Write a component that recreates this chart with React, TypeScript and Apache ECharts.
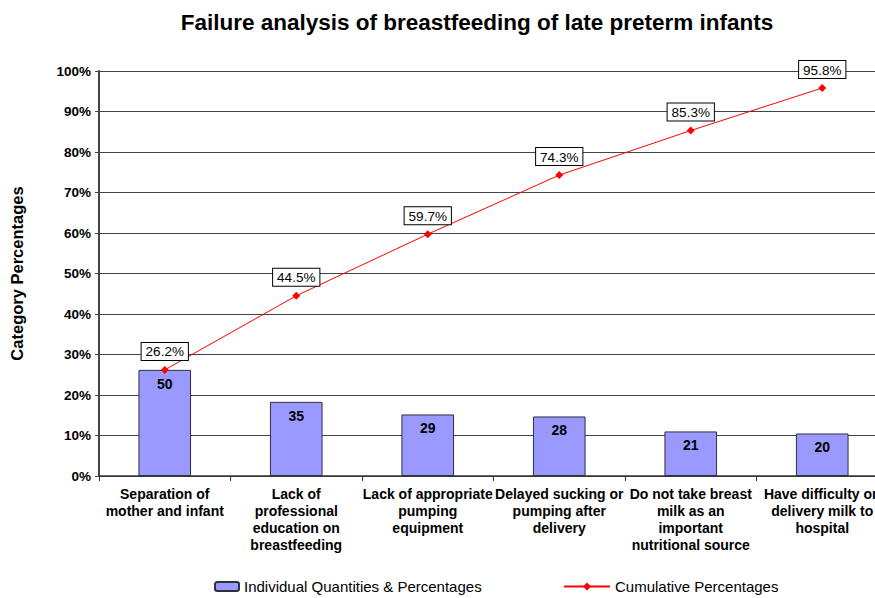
import React, { useEffect, useRef } from "react";
import * as echarts from "echarts";

const categories = [
  "Separation of\nmother and infant",
  "Lack of\nprofessional\neducation on\nbreastfeeding",
  "Lack of appropriate\npumping\nequipment",
  "Delayed sucking or\npumping after\ndelivery",
  "Do not take breast\nmilk as an\nimportant\nnutritional source",
  "Have difficulty on\ndelivery milk to\nhospital",
];
const counts = [50, 35, 29, 28, 21, 20];
const individualPct = [26.2, 18.3, 15.2, 14.7, 11.0, 10.5];
const cumulativePct = [26.2, 44.5, 59.7, 74.3, 85.3, 95.8];

const FONT = "Liberation Sans, Arial, sans-serif";

export default function App() {
  const ref = useRef<HTMLDivElement>(null);
  useEffect(() => {
    document.body.style.margin = "0";
    if (!ref.current) return;
    const chart = echarts.init(ref.current, null, { renderer: "svg" });
    chart.setOption({
      animation: false,
      backgroundColor: "#ffffff",
      textStyle: { fontFamily: FONT },
      title: {
        text: "Failure analysis of breastfeeding of late preterm infants",
        left: 472,
        textAlign: "center",
        top: 6,
        textStyle: { fontSize: 22.5, fontWeight: "bold", color: "#000", fontFamily: FONT },
      },
      legend: [
        {
          data: ["Individual Quantities & Percentages"],
          left: 212,
          top: 577,
          padding: 2,
          itemWidth: 24,
          itemHeight: 9,
          itemGap: 4,
          textStyle: { fontSize: 15, color: "#000", fontFamily: FONT },
        },
        {
          data: ["Cumulative Percentages"],
          left: 561,
          top: 577,
          padding: 2,
          itemWidth: 46,
          itemHeight: 10,
          textStyle: { fontSize: 15, color: "#000", fontFamily: FONT },
        },
      ],
      grid: { left: 99, top: 71, width: 789, bottom: 122, containLabel: false },
      xAxis: {
        type: "category",
        data: categories,
        axisLine: { lineStyle: { color: "#333", width: 1.5 } },
        axisTick: { show: true, length: 5, lineStyle: { color: "#333" } },
        axisLabel: {
          interval: 0,
          fontSize: 14,
          fontWeight: "bold",
          color: "#000",
          lineHeight: 17,
          margin: 9,
          fontFamily: FONT,
        },
      },
      yAxis: {
        type: "value",
        min: 0,
        max: 100,
        interval: 10,
        name: "Category Percentages",
        nameLocation: "middle",
        nameGap: 74,
        nameTextStyle: { fontSize: 16.5, fontWeight: "bold", color: "#000", fontFamily: FONT },
        axisLine: { show: true, lineStyle: { color: "#444", width: 2 } },
        axisTick: { show: true, length: 4, lineStyle: { color: "#444" } },
        axisLabel: {
          formatter: "{value}%",
          fontSize: 13.5,
          fontWeight: "bold",
          color: "#000",
          margin: 8,
          fontFamily: FONT,
        },
        splitLine: { show: true, lineStyle: { color: "#444", width: 1 } },
      },
      series: [
        {
          name: "Individual Quantities & Percentages",
          type: "bar",
          data: individualPct,
          barWidth: "40%",
          itemStyle: { color: "#9999ff", borderColor: "#2f2f3f", borderWidth: 1 },
          label: {
            show: true,
            position: "insideTop",
            distance: 7,
            formatter: (p: any) => String(counts[p.dataIndex]),
            fontSize: 14,
            fontWeight: "bold",
            color: "#000",
            fontFamily: FONT,
          },
          z: 2,
        },
        {
          name: "Cumulative Percentages",
          type: "line",
          data: cumulativePct,
          symbol: "diamond",
          symbolSize: 8,
          lineStyle: { color: "#ff0000", width: 1 },
          itemStyle: { color: "#ff0000" },
          label: {
            show: true,
            position: "top",
            distance: 6,
            formatter: (p: any) => p.value.toFixed(1) + "%",
            fontSize: 13.5,
            color: "#000",
            backgroundColor: "#fff",
            borderColor: "#000",
            borderWidth: 1,
            padding: [2, 4, 1, 4],
            fontFamily: FONT,
          },
          z: 5,
        },
      ],
    });
    return () => chart.dispose();
  }, []);
  return (
    <div style={{ width: 875, height: 598, overflow: "hidden", position: "relative" }}>
      <div ref={ref} style={{ width: 890, height: 598 }} />
    </div>
  );
}
